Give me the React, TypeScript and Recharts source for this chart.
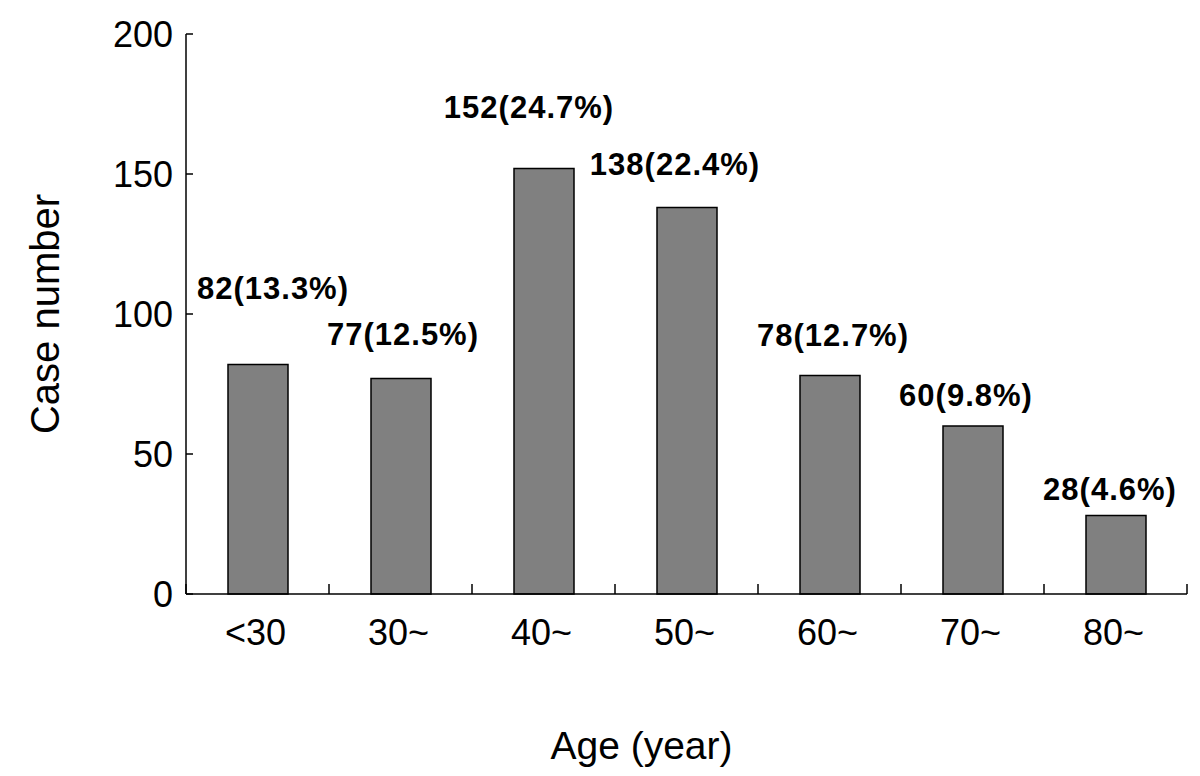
import { BarChart, Bar, XAxis, YAxis, LabelList } from "recharts";

const ageGroups = ["<30", "30~", "40~", "50~", "60~", "70~", "80~"];
const caseCounts = [82, 77, 152, 138, 78, 60, 28];
const casePercents = ["13.3%", "12.5%", "24.7%", "22.4%", "12.7%", "9.8%", "4.6%"];
const yTicks = [0, 50, 100, 150, 200];

// label nudges relative to the top-centre of each bar (layout only)
const labelNudge = [
  [15, -77],
  [2, -45],
  [-15, -62],
  [-12, -44],
  [3, -41],
  [-7, -31],
  [-6, -27],
];

const W = 1200;
const H = 776;
const Y_AXIS_W = 186;
const RIGHT = 13;
const TOP = 34;
const X_AXIS_H = 182;
const PLOT_W = W - Y_AXIS_W - RIGHT;
const BAND = PLOT_W / ageGroups.length;
const FONT = "'Liberation Sans', Arial, Helvetica, sans-serif";

const data = ageGroups.map((g, i) => ({
  group: g,
  count: caseCounts[i],
  label: `${caseCounts[i]}(${casePercents[i]})`,
}));

function XTick(props: any) {
  const { x, y, payload, index } = props;
  return (
    <g>
      <line x1={x - BAND / 2} x2={x - BAND / 2} y1={y} y2={y - 10} stroke="#000" strokeWidth={1.5} />
      {index === ageGroups.length - 1 && (
        <line x1={x + BAND / 2} x2={x + BAND / 2} y1={y} y2={y - 10} stroke="#000" strokeWidth={1.5} />
      )}
      <text x={x - 2} y={y + 51} textAnchor="middle" fontSize={36} fontFamily={FONT} fill="#000">
        {payload.value}
      </text>
    </g>
  );
}

function YTick(props: any) {
  const { x, y, payload } = props;
  return (
    <g>
      <line x1={x + 13} x2={x + 20} y1={y} y2={y} stroke="#000" strokeWidth={1.5} />
      <text x={x} y={y} dy="0.36em" textAnchor="end" fontSize={36} fontFamily={FONT} fill="#000">
        {payload.value}
      </text>
    </g>
  );
}

function BarLabel(props: any) {
  const { x, y, width, value, index } = props;
  const [dx, dy] = labelNudge[index] || [0, -30];
  return (
    <text
      x={x + width / 2 + dx}
      y={y + dy}
      dy="0.36em"
      textAnchor="middle"
      fontSize={31}
      fontWeight="bold"
      letterSpacing={1}
      fontFamily={FONT}
      fill="#000"
    >
      {value}
    </text>
  );
}

export default function App() {
  return (
    <div style={{ position: "absolute", left: 0, top: 0, width: W, height: H, background: "#fff" }}>
      <BarChart
        width={W}
        height={H}
        data={data}
        margin={{ top: TOP, right: RIGHT, left: 0, bottom: 0 }}
      >
        <XAxis
          dataKey="group"
          height={X_AXIS_H}
          axisLine={{ stroke: "#000", strokeWidth: 1.5 }}
          tickLine={false}
          tickSize={0}
          tickMargin={0}
          tick={<XTick />}
          interval={0}
          label={{
            content: ({ viewBox }: any) => (
              <text
                x={viewBox.x + viewBox.width / 2 - 45}
                y={759}
                textAnchor="middle"
                fontSize={39}
                fontFamily={FONT}
                fill="#000"
              >
                Age (year)
              </text>
            ),
          }}
        />
        <YAxis
          width={Y_AXIS_W}
          domain={[0, 200]}
          ticks={yTicks}
          axisLine={{ stroke: "#000", strokeWidth: 1.5 }}
          tickLine={false}
          tickSize={0}
          tickMargin={13}
          tick={<YTick />}
          label={{
            content: ({ viewBox }: any) => {
              const cx = 45;
              const cy = viewBox.y + viewBox.height / 2;
              return (
                <text
                  x={cx}
                  y={cy}
                  dy="0.36em"
                  transform={`rotate(-90 ${cx} ${cy})`}
                  textAnchor="middle"
                  fontSize={40}
                  fontFamily={FONT}
                  fill="#000"
                >
                  Case number
                </text>
              );
            },
          }}
        />
        <Bar
          dataKey="count"
          barSize={60}
          fill="#808080"
          stroke="#000"
          strokeWidth={1.5}
          isAnimationActive={false}
        >
          <LabelList dataKey="label" content={<BarLabel />} />
        </Bar>
      </BarChart>
    </div>
  );
}
